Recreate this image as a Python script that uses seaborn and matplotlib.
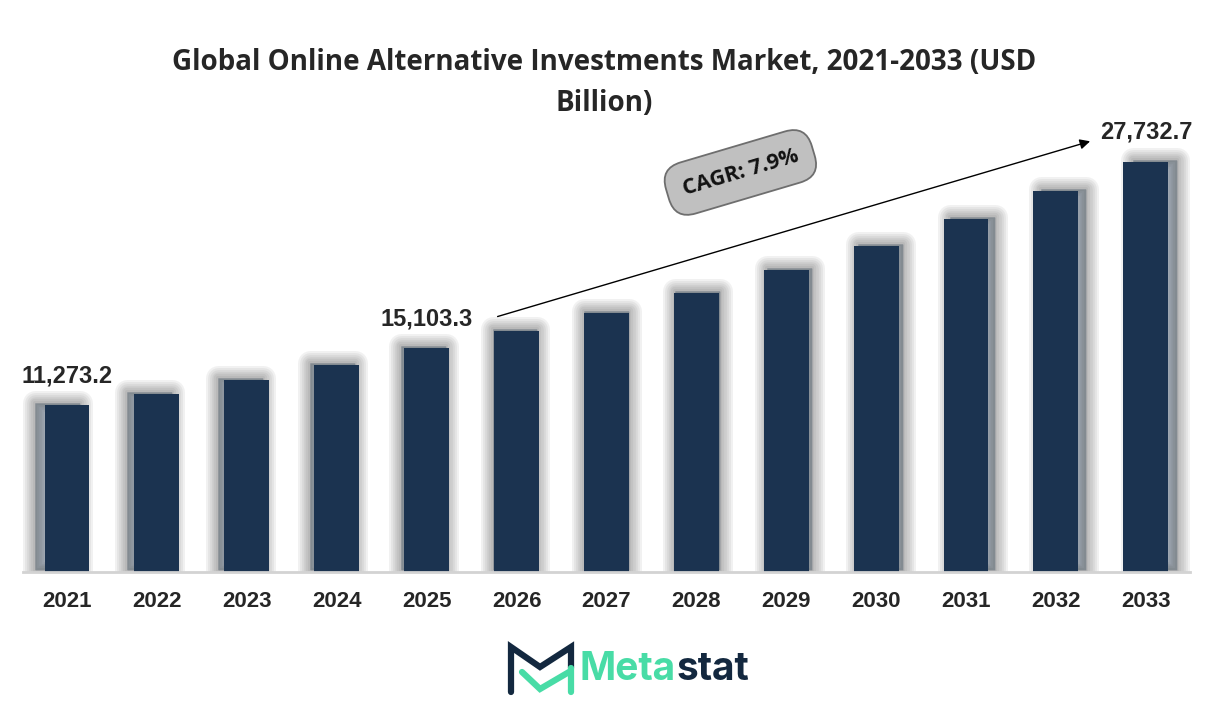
import seaborn as sns
import matplotlib.pyplot as plt
import matplotlib.patheffects as pe
import pandas as pd

years = ['2021', '2022', '2023', '2024', '2025', '2026', '2027',
         '2028', '2029', '2030', '2031', '2032', '2033']
market = [11273.2, 12015, 12960, 13973, 15103.3, 16270, 17490,
          18840, 20390, 22000, 23830, 25720, 27732.7]
shown_labels = {'2021': '11,273.2', '2025': '15,103.3', '2033': '27,732.7'}
cagr_text = 'CAGR: 7.9%'
title = 'Global Online Alternative Investments Market, 2021-2033 (USD\nBillion)'

df = pd.DataFrame({'Year': years, 'Value': market})

sns.set_style('white')
fig = plt.figure(figsize=(12.08, 7.21), dpi=100)
ax = fig.add_axes([0.019, 0.2067, 0.966, 0.64])

sns.barplot(data=df, x='Year', y='Value', color='#1b3350', width=0.5,
            saturation=1, linewidth=0, ax=ax)

# soft shadow, thrown outwards from the middle of the chart
for i, p in enumerate(ax.patches):
    dx = (i - 6) * 1.1
    layers = [pe.Stroke(offset=(dx, 1.5), linewidth=lw, foreground='#3a3a3a',
                        alpha=0.065, joinstyle='round')
              for lw in (18, 15, 12, 9, 6, 3)]
    p.set_path_effects(layers + [pe.Normal()])

ax.set_xlim(-0.49, 12.49)
ax.set_ylim(0, 31185)
for s in ['top', 'right', 'left']:
    ax.spines[s].set_visible(False)
ax.spines['bottom'].set_color('#d3d3d3')
ax.spines['bottom'].set_linewidth(2)
ax.spines['bottom'].set_zorder(5)
ax.set_yticks([])
ax.set_xlabel('')
ax.set_ylabel('')
ax.tick_params(axis='x', length=0, pad=14)
for t in ax.get_xticklabels():
    t.set_fontfamily('Liberation Sans')
    t.set_fontweight('bold')
    t.set_fontsize(16)

for i, y in enumerate(years):
    if y in shown_labels:
        ax.annotate(shown_labels[y], (i, market[i]), xytext=(0, 13),
                    textcoords='offset points', ha='center', va='bottom',
                    fontsize=17, fontweight='bold', family='Liberation Sans')

# CAGR arrow
ax.annotate('', xy=(11.41, 29160), xytext=(4.76, 17210),
            arrowprops=dict(arrowstyle='-|>', color='black', lw=1,
                            mutation_scale=15))
ax.text(7.49, 27000, cagr_text, rotation=16.5, ha='center', va='center',
        fontsize=15.5, fontweight='bold', family='Open Sans', color='#111111',
        rotation_mode='anchor',
        bbox=dict(boxstyle='round,pad=0.75,rounding_size=1.0',
                  facecolor='#c0c0c0', edgecolor='#6e6e6e', lw=1.3))

fig.text(0.5, 0.934, title, ha='center', va='top', fontsize=20,
         fontweight='bold', family='Open Sans', linespacing=1.55)

# Metastat logo
W, H = 1208, 721
def fx(x):
    return x / W
def fy(y):
    return 1 - y / H
navy = '#13283f'
green = '#48dca6'
fig.add_artist(plt.Line2D([fx(511), fx(511), fx(540), fx(571), fx(571)],
                          [fy(692), fy(647), fy(667), fy(647), fy(668)],
                          color=navy, lw=4.5, solid_joinstyle='miter'))
fig.add_artist(plt.Line2D([fx(522), fx(540), fx(569)],
                          [fy(672), fy(689), fy(672)],
                          color=green, lw=4.5, solid_joinstyle='miter'))
fig.add_artist(plt.Line2D([fx(571), fx(571)], [fy(668), fy(692)],
                          color=green, lw=4.5))
t1 = fig.text(fx(580), fy(669), 'Meta', color=green, fontsize=28,
              fontweight='bold', family='Inter', va='center', ha='left')
fig.canvas.draw()
bb = t1.get_window_extent()
fig.text(bb.x1 / W, fy(669), 'stat', color=navy, fontsize=28,
         fontweight='bold', family='Inter', va='center', ha='left')

fig.savefig('out.png', dpi=100, facecolor='white')
